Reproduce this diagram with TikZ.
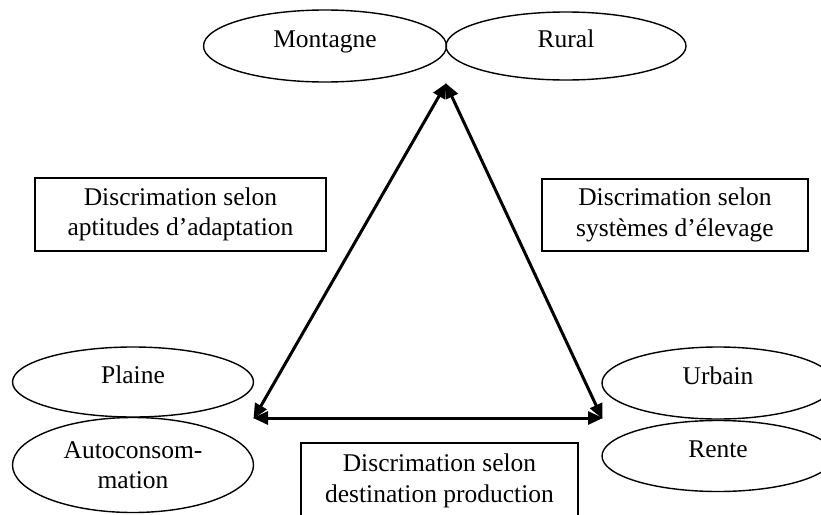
\documentclass[tikz,border=0pt]{standalone}
\usepackage{fontspec}
\setmainfont{Liberation Serif}
\usetikzlibrary{shapes.geometric, arrows.meta}

\tikzset{
    oval/.style={draw, ellipse, line width=1.4pt, inner sep=0pt,
        text height=17pt, text depth=14pt},
    ovaltwo/.style={draw, ellipse, line width=1.4pt, inner sep=0pt, align=center},
    critbox/.style={draw, line width=1.1pt, inner sep=0pt, align=center},
    link/.style={{Triangle[length=15pt,width=13pt]}-{Triangle[length=15pt,width=13pt]}, line width=3pt, shorten <=-1pt, shorten >=-1pt}
}

\begin{document}
\begin{tikzpicture}[x=1pt, y=-1pt, font=\fontsize{25.5}{30.5}\selectfont]

    \useasboundingbox (0,0) rectangle (821,514);

    % --- Categories ---
    \node[oval, minimum width=243pt, minimum height=72pt] (montagne) at (325,46) {Montagne};
    \node[oval, minimum width=240pt, minimum height=68pt] (rural) at (566,46) {Rural};
    \node[oval, minimum width=241pt, minimum height=70pt] (plaine) at (133,382) {Plaine};
    \node[ovaltwo, minimum width=241pt, minimum height=95pt] (autoconso) at (133,465) {Autoconsom-\\mation};
    \node[oval, minimum width=232pt, minimum height=72pt] (urbain) at (718,383) {Urbain};
    \node[oval, minimum width=232pt, minimum height=71pt] (rente) at (718,456) {Rente};

    % --- Criteria ---
    \node[critbox, minimum width=291pt, minimum height=73pt] (adaptation) at (180.5,214.5) {Discrimation selon\\aptitudes d'adaptation};
    \node[critbox, minimum width=266pt, minimum height=72pt] (elevage) at (675,215) {Discrimation selon\\systèmes d'élevage};
    \node[critbox, minimum width=277pt, minimum height=76pt] (destination) at (439.5,481) {Discrimation selon\\destination production};

    % --- Triangle ---
    \coordinate (apex) at (446,84);
    \coordinate (leftc) at (254,418);
    \coordinate (rightc) at (602,418);

    \draw[link] (apex) -- (leftc);
    \draw[link] (apex) -- (rightc);
    \draw[link] (leftc) -- (rightc);

\end{tikzpicture}
\end{document}
